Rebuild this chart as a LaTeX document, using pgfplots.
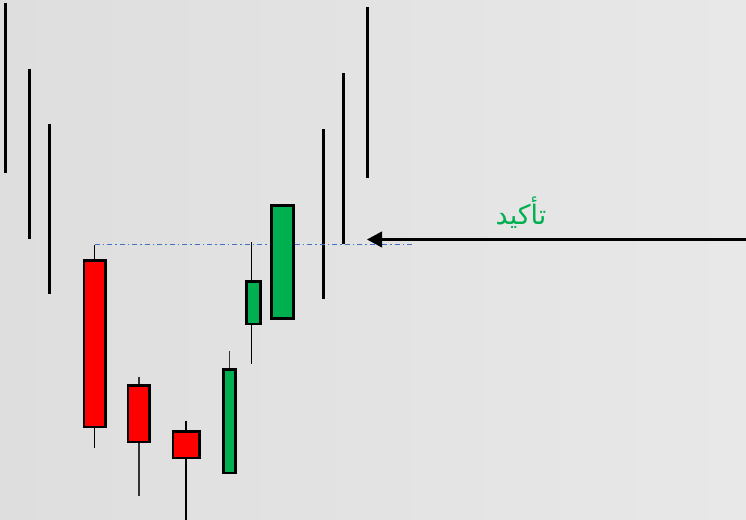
\documentclass[border=0pt]{standalone}
\usepackage{pgfplots}
\pgfplotsset{compat=1.18}
\usetikzlibrary{arrows.meta}
\usepackage{fontspec}
\newfontfamily\arabicfont[Script=Arabic]{DejaVu Sans}
\TeXXeTstate=1
\definecolor{bgL}{RGB}{222,222,222}
\definecolor{bgR}{RGB}{232,232,232}
\definecolor{cred}{RGB}{255,0,0}
\definecolor{cgreen}{RGB}{0,176,80}
\definecolor{cblue}{RGB}{68,114,196}
\begin{document}
\begin{tikzpicture}
\begin{axis}[name=ax, scale only axis, width=746bp, height=520bp,
  xmin=0, xmax=746, ymin=0, ymax=520, y dir=reverse,
  hide axis, clip=false]
\shade[left color=bgL, right color=bgR] (rel axis cs:0,0) rectangle (rel axis cs:1,1);
% left lines
\addplot[black, line width=3bp] coordinates {(5,3) (5,173)};
\addplot[black, line width=3bp] coordinates {(29.5,69) (29.5,239)};
\addplot[black, line width=3bp] coordinates {(49.5,124) (49.5,294)};
% right lines
\addplot[black, line width=2.7bp] coordinates {(323.7,129.3) (323.7,299.3)};
\addplot[black, line width=2.7bp] coordinates {(343.7,73.3) (343.7,244)};
\addplot[black, line width=2.7bp] coordinates {(367.7,7.5) (367.7,178.3)};
% dash-dot line
\addplot[cblue, line width=1.1bp, dash pattern=on 5bp off 3bp on 1.5bp off 3bp] coordinates {(94.7,244.3) (413,244.3)};
% wicks
\addplot[black, line width=1.4bp] coordinates {(94.7,245) (94.7,447.7)};
\addplot[black!80, line width=1.4bp] coordinates {(139,377) (139,495.7)};
\addplot[black, line width=1.4bp] coordinates {(186,420.7) (186,520)};
\addplot[black!80, line width=1.4bp] coordinates {(229.7,351.3) (229.7,369)};
\addplot[black, line width=1.4bp] coordinates {(251.5,241.7) (251.5,363.7)};
% bodies
\addplot[draw=black, fill=cred, line width=2.6bp, line join=miter] coordinates {(84,260.6) (105.7,260.6) (105.7,427) (84,427)} -- cycle;
\addplot[draw=black, fill=cred, line width=2.6bp, line join=miter] coordinates {(128,385.6) (149.7,385.6) (149.7,442) (128,442)} -- cycle;
\addplot[draw=black, fill=cred, line width=2.6bp, line join=miter] coordinates {(173,431.3) (199.4,431.3) (199.4,458) (173,458)} -- cycle;
\addplot[draw=black, fill=cgreen, line width=2.6bp, line join=miter] coordinates {(223.3,369.3) (235.7,369.3) (235.7,473) (223.3,473)} -- cycle;
\addplot[draw=black, fill=cgreen, line width=2.6bp, line join=miter] coordinates {(246.3,281.3) (260.7,281.3) (260.7,324) (246.3,324)} -- cycle;
\addplot[draw=black, fill=cgreen, line width=2.6bp, line join=miter] coordinates {(271.3,205.3) (293.4,205.3) (293.4,318.4) (271.3,318.4)} -- cycle;
% arrow
\addplot[black, line width=2.5bp, -{Triangle[length=15bp,width=15.5bp]}] coordinates {(746,239.5) (367,239.5)};
% label
\node[text=cgreen, inner sep=0pt] at (axis cs:521,213) {\fontsize{27}{30}\selectfont\arabicfont\beginR تأكيد\endR};
\end{axis}
\pgfresetboundingbox
\path (ax.south west) rectangle (ax.north east);
\end{tikzpicture}
\end{document}
